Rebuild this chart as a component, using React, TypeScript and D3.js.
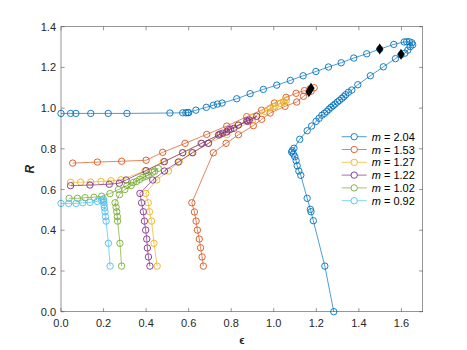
import React, { useEffect, useRef } from 'react';
import * as d3 from 'd3';

type Pt = [number, number];

// [epsilon, R] pairs
const m204: Pt[] = [
  [0.0, 0.974], [0.045, 0.974], [0.07, 0.974], [0.14, 0.974], [0.222, 0.974], [0.31, 0.974],
  [0.512, 0.976], [0.572, 0.977], [0.587, 0.977], [0.596, 0.978], [0.6, 0.978], [0.634, 0.99],
  [0.683, 1.004], [0.716, 1.014], [0.735, 1.02], [0.757, 1.025], [0.826, 1.046], [0.889, 1.071],
  [0.951, 1.092], [1.014, 1.113], [1.078, 1.136], [1.138, 1.159], [1.198, 1.18], [1.257, 1.202],
  [1.317, 1.223], [1.376, 1.246], [1.437, 1.267], [1.498, 1.29], [1.564, 1.313], [1.613, 1.325],
  [1.625, 1.326], [1.637, 1.326], [1.649, 1.321], [1.653, 1.311], [1.641, 1.302], [1.63, 1.285],
  [1.616, 1.27], [1.598, 1.262], [1.572, 1.243], [1.515, 1.203], [1.454, 1.159], [1.395, 1.115],
  [1.367, 1.089], [1.351, 1.078], [1.338, 1.066], [1.329, 1.056], [1.32, 1.048], [1.309, 1.038],
  [1.299, 1.03], [1.288, 1.02], [1.279, 1.012], [1.269, 1.004], [1.259, 0.994], [1.249, 0.984],
  [1.238, 0.974], [1.226, 0.965], [1.213, 0.95], [1.199, 0.935], [1.178, 0.912], [1.157, 0.889],
  [1.122, 0.847], [1.095, 0.803], [1.087, 0.791], [1.084, 0.784], [1.092, 0.775], [1.099, 0.761],
  [1.105, 0.742], [1.11, 0.717], [1.118, 0.691], [1.127, 0.67], [1.157, 0.557], [1.172, 0.503],
  [1.175, 0.491], [1.186, 0.447], [1.24, 0.224], [1.282, 0.0],
];

const m153: Pt[] = [
  [0.055, 0.73], [0.171, 0.735], [0.285, 0.739], [0.4, 0.744], [0.478, 0.783], [0.583, 0.827],
  [0.685, 0.871], [0.779, 0.912], [0.873, 0.958], [0.943, 0.99], [1.003, 1.025], [1.058, 1.053],
  [1.105, 1.073], [1.144, 1.086], [1.17, 1.095], [1.19, 1.1], [1.175, 1.083], [1.14, 1.058],
  [1.108, 1.03], [1.053, 1.009], [0.983, 0.976], [0.943, 0.945], [0.904, 0.914], [0.834, 0.869],
  [0.776, 0.827], [0.716, 0.781], [0.615, 0.535], [0.627, 0.49], [0.635, 0.445], [0.641, 0.401],
  [0.65, 0.357], [0.656, 0.314], [0.663, 0.269], [0.669, 0.224],
];

const m127: Pt[] = [
  [0.045, 0.636], [0.092, 0.636], [0.14, 0.637], [0.188, 0.64], [0.235, 0.643], [0.282, 0.648],
  [0.395, 0.692], [0.481, 0.737], [0.572, 0.781], [0.657, 0.827], [0.745, 0.868], [0.83, 0.915],
  [0.9, 0.955], [0.959, 0.984], [1.006, 1.009], [1.045, 1.03], [1.06, 1.04], [1.048, 1.031],
  [1.03, 1.024], [0.998, 1.007], [0.983, 1.0], [0.9, 0.94], [0.78, 0.87], [0.693, 0.827],
  [0.614, 0.781], [0.556, 0.737], [0.505, 0.691], [0.45, 0.647], [0.398, 0.581], [0.41, 0.535],
  [0.416, 0.491], [0.426, 0.445], [0.437, 0.336], [0.452, 0.224],
];

const m122: Pt[] = [
  [0.045, 0.619], [0.136, 0.622], [0.227, 0.626], [0.274, 0.631], [0.306, 0.647], [0.4, 0.693],
  [0.486, 0.737], [0.572, 0.781], [0.661, 0.827], [0.74, 0.868], [0.787, 0.894], [0.834, 0.917],
  [0.878, 0.935], [0.92, 0.96], [0.885, 0.942], [0.873, 0.938], [0.813, 0.901], [0.797, 0.896],
  [0.779, 0.883], [0.76, 0.877], [0.748, 0.873], [0.693, 0.827], [0.619, 0.781], [0.551, 0.735],
  [0.486, 0.691], [0.431, 0.647], [0.371, 0.581], [0.379, 0.535], [0.387, 0.491], [0.392, 0.445],
  [0.398, 0.401], [0.403, 0.357], [0.406, 0.313], [0.411, 0.269], [0.418, 0.224],
];

const m102: Pt[] = [
  [0.038, 0.557], [0.077, 0.557], [0.113, 0.56], [0.155, 0.562], [0.191, 0.567], [0.23, 0.58],
  [0.27, 0.6], [0.31, 0.62], [0.34, 0.635], [0.37, 0.65], [0.4, 0.665], [0.43, 0.685],
  [0.457, 0.704], [0.44, 0.69], [0.41, 0.672], [0.385, 0.66], [0.355, 0.64], [0.33, 0.62],
  [0.3, 0.6], [0.275, 0.575], [0.254, 0.535], [0.259, 0.513], [0.262, 0.491], [0.265, 0.467],
  [0.266, 0.445], [0.277, 0.336], [0.285, 0.224],
];

const m092: Pt[] = [
  [0.0, 0.532], [0.036, 0.532], [0.071, 0.532], [0.102, 0.535], [0.136, 0.537], [0.171, 0.542],
  [0.19, 0.547], [0.199, 0.553], [0.2, 0.545], [0.201, 0.537], [0.202, 0.525], [0.204, 0.51],
  [0.207, 0.491], [0.209, 0.467], [0.212, 0.445], [0.223, 0.336], [0.231, 0.224],
];

const diamonds: Pt[] = [[1.165, 1.08], [1.175, 1.098], [1.498, 1.29], [1.598, 1.265]];

const seriesData = [m204, m153, m127, m122, m102, m092];
const legendLabels = ['2.04', '1.53', '1.27', '1.22', '1.02', '0.92'];
const colors = ['#0072BD', '#D95319', '#EDB120', '#7E2F8E', '#77AC30', '#4DBEEE'];
const xTicks = [0, 0.2, 0.4, 0.6, 0.8, 1.0, 1.2, 1.4, 1.6];
const yTicks = [0, 0.2, 0.4, 0.6, 0.8, 1.0, 1.2, 1.4];

const App = () => {
  const ref = useRef<SVGSVGElement>(null);

  useEffect(() => {
    const svg = d3.select(ref.current);
    svg.selectAll('*').remove();

    const left = 61, right = 422.7, top = 26.7, bottom = 311.7;
    const x = d3.scaleLinear().domain([0, 1.7]).range([left, right]);
    const y = d3.scaleLinear().domain([0, 1.4]).range([bottom, top]);
    const axisColor = '#262626';
    const font = 'Liberation Sans, Arial, Helvetica, sans-serif';

    svg.append('rect').attr('x', left).attr('y', top)
      .attr('width', right - left).attr('height', bottom - top).attr('fill', 'white');

    // Data lines and markers
    seriesData.forEach((pts, i) => {
      const line = d3.line<Pt>().x(d => x(d[0])).y(d => y(d[1]));
      svg.append('path').datum(pts).attr('d', line)
        .attr('fill', 'none').attr('stroke', colors[i]).attr('stroke-width', 0.7);
      svg.append('g').selectAll('circle').data(pts).enter().append('circle')
        .attr('cx', d => x(d[0])).attr('cy', d => y(d[1])).attr('r', 3.2)
        .attr('fill', 'none').attr('stroke', colors[i]).attr('stroke-width', 0.9);
    });

    // Black diamonds
    svg.append('g').selectAll('path').data(diamonds).enter().append('path')
      .attr('d', 'M0,-5.5L3.5,0L0,5.5L-3.5,0Z')
      .attr('transform', d => `translate(${x(d[0])},${y(d[1])})`)
      .attr('fill', 'black');

    // Box and ticks
    const axes = svg.append('g').attr('stroke', axisColor).attr('stroke-width', 0.6).attr('opacity', 0.8);
    axes.append('rect').attr('x', left).attr('y', top)
      .attr('width', right - left).attr('height', bottom - top).attr('fill', 'none');
    const tl = 3.6;
    xTicks.forEach(t => {
      axes.append('line').attr('x1', x(t)).attr('x2', x(t)).attr('y1', bottom).attr('y2', bottom - tl);
      axes.append('line').attr('x1', x(t)).attr('x2', x(t)).attr('y1', top).attr('y2', top + tl);
    });
    yTicks.forEach(t => {
      axes.append('line').attr('x1', left).attr('x2', left + tl).attr('y1', y(t)).attr('y2', y(t));
      axes.append('line').attr('x1', right).attr('x2', right - tl).attr('y1', y(t)).attr('y2', y(t));
    });

    // Tick labels
    svg.append('g').selectAll('text').data(xTicks).enter().append('text')
      .attr('x', d => x(d)).attr('y', bottom + 15)
      .attr('text-anchor', 'middle').attr('font-family', font).attr('font-size', 11)
      .attr('fill', axisColor).text(d => d.toFixed(1));
    svg.append('g').selectAll('text').data(yTicks).enter().append('text')
      .attr('x', left - 5).attr('y', d => y(d) + 4)
      .attr('text-anchor', 'end').attr('font-family', font).attr('font-size', 11)
      .attr('fill', axisColor).text(d => d.toFixed(1));

    // Axis labels
    svg.append('text').attr('transform', `translate(34,${(top + bottom) / 2}) rotate(-90)`)
      .attr('text-anchor', 'middle').attr('font-family', font).attr('font-size', 12)
      .attr('font-style', 'italic').attr('font-weight', 'bold').attr('fill', axisColor).text('R');
    svg.append('text').attr('x', (left + right) / 2).attr('y', 344)
      .attr('text-anchor', 'middle').attr('font-family', font).attr('font-size', 11)
      .attr('font-weight', 'bold').attr('fill', axisColor).text('ϵ');

    // Legend
    const lg = svg.append('g');
    legendLabels.forEach((lab, i) => {
      const ly = 136.7 + i * 12.8;
      lg.append('line').attr('x1', 341.7).attr('x2', 366.7).attr('y1', ly).attr('y2', ly)
        .attr('stroke', colors[i]).attr('stroke-width', 0.7);
      lg.append('circle').attr('cx', 354.2).attr('cy', ly).attr('r', 3.2)
        .attr('fill', 'white').attr('stroke', colors[i]).attr('stroke-width', 0.9);
      const t = lg.append('text').attr('x', 371.7).attr('y', ly + 4)
        .attr('font-family', font).attr('font-size', 11).attr('fill', 'black');
      t.append('tspan').attr('font-style', 'italic').text('m');
      t.append('tspan').text(` = ${lab}`);
    });
  }, []);

  return (
    <svg ref={ref} width={467} height={350}
      style={{ position: 'absolute', left: 0, top: 0, background: 'white' }} />
  );
};

export default App;
